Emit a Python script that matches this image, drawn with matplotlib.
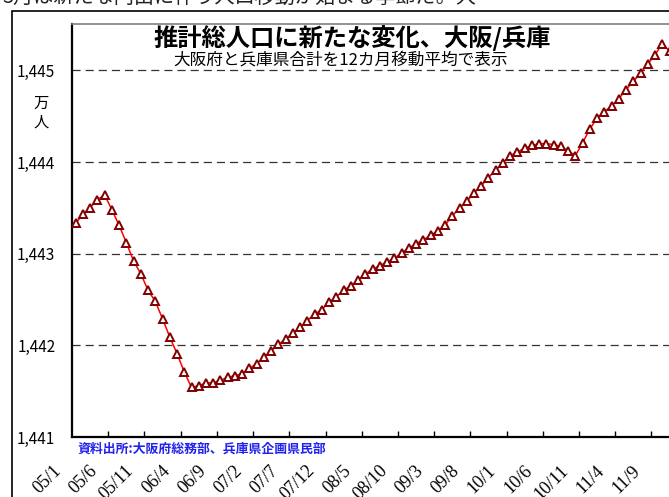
import matplotlib
matplotlib.use("Agg")
import matplotlib.pyplot as plt
from matplotlib.patches import Rectangle
from matplotlib.transforms import ScaledTranslation

plt.rcParams['font.family'] = ['Noto Sans CJK JP', 'DejaVu Sans']

# 12カ月移動平均 (万人), 2005/1 から毎月
population = [
    1443.33, 1443.43, 1443.50, 1443.59, 1443.64, 1443.48, 1443.31, 1443.12,
    1442.92, 1442.78, 1442.60, 1442.48, 1442.29, 1442.09, 1441.91, 1441.71,
    1441.54, 1441.56, 1441.59, 1441.59, 1441.62, 1441.65, 1441.67, 1441.69,
    1441.75, 1441.80, 1441.87, 1441.94, 1442.01, 1442.07, 1442.13, 1442.20,
    1442.27, 1442.34, 1442.39, 1442.47, 1442.53, 1442.60, 1442.65, 1442.71,
    1442.78, 1442.83, 1442.87, 1442.91, 1442.95, 1443.01, 1443.06, 1443.11,
    1443.15, 1443.20, 1443.25, 1443.31, 1443.41, 1443.50, 1443.57, 1443.66,
    1443.74, 1443.83, 1443.91, 1443.99, 1444.07, 1444.11, 1444.15, 1444.18,
    1444.20, 1444.20, 1444.19, 1444.17, 1444.12, 1444.07, 1444.21, 1444.36,
    1444.48, 1444.55, 1444.61, 1444.69, 1444.79, 1444.88, 1444.97, 1445.07,
    1445.17, 1445.29, 1445.21,
]
month_labels = ["05/1", "05/6", "05/11", "06/4", "06/9", "07/2", "07/7",
                "07/12", "08/5", "08/10", "09/3", "09/8", "10/1", "10/6",
                "10/11", "11/4", "11/9"]
y_ticks = [1441, 1442, 1443, 1444, 1445]
y_labels = ["1,441", "1,442", "1,443", "1,444", "1,445"]
n_categories = 84

W, H = 669, 497
fig = plt.figure(figsize=(W / 100, H / 100), dpi=100)

# 外枠
fig.patches.append(Rectangle((12 / W, -0.1), 1.2, 1 - 11 / H + 0.1,
                             transform=fig.transFigure, fill=False,
                             edgecolor='black', linewidth=1.2))

ax = fig.add_axes([72 / W, 60 / H, n_categories * 7.243 / W, 413 / H])
x = list(range(len(population)))
ax.plot(x, population, color='#ff0000', linewidth=1.1, marker='^',
        markersize=6, markerfacecolor='white', markeredgecolor='#800000',
        markeredgewidth=1.4, zorder=3)

ax.set_xlim(-0.5, n_categories - 0.5)
ax.set_ylim(1441, 1441 + 413 / 91.67)

ax.set_yticks(y_ticks)
ax.set_yticklabels(y_labels)
ax.tick_params(axis='y', length=0, pad=12, labelsize=11)
for yv in y_ticks[1:]:
    ax.axhline(yv, color='#333333', linewidth=0.9, linestyle=(0, (6.5, 4)),
               zorder=1)

ax.set_xticks(range(0, len(month_labels) * 5, 5))
ax.set_xticklabels(month_labels, rotation=45, ha='right', va='top',
                   family='Liberation Serif', fontsize=13)
ax.set_xticks([k - 0.5 for k in range(5, n_categories, 5)], minor=True)
ax.tick_params(axis='x', which='major', length=0, pad=18)
ax.tick_params(axis='x', which='minor', direction='in', length=4,
               width=1, color='black')
shift = ScaledTranslation(-11 / 100, 0, fig.dpi_scale_trans)
for lbl in ax.get_xticklabels():
    lbl.set_transform(lbl.get_transform() + shift)

ax.spines['left'].set_linewidth(1.6)
ax.spines['bottom'].set_linewidth(1.6)
ax.spines['top'].set_color('#808080')
ax.spines['top'].set_linewidth(1.2)
ax.spines['right'].set_visible(False)

def fx(px):
    return px / W

def fy(py):
    return 1 - py / H

fig.text(fx(2), fy(8), "3月は新たな門出に伴う人口移動が始まる季節だ。大",
         fontsize=14.5, va='bottom', ha='left', color='#222222')
fig.text(fx(352), fy(38), "推計総人口に新たな変化、大阪/兵庫",
         fontsize=17.5, fontweight='bold', ha='center', va='center')
fig.text(fx(341), fy(60), "大阪府と兵庫県合計を12カ月移動平均で表示",
         fontsize=12, ha='center', va='center')
fig.text(fx(41), fy(103), "万", fontsize=11, ha='center', va='center')
fig.text(fx(41), fy(122), "人", fontsize=11, ha='center', va='center')
fig.text(fx(77), fy(449), "資料出所:大阪府総務部、兵庫県企画県民部",
         fontsize=9.3, fontweight='bold', color='#2222ee', ha='left',
         va='center')

fig.savefig("out.png", dpi=100)
